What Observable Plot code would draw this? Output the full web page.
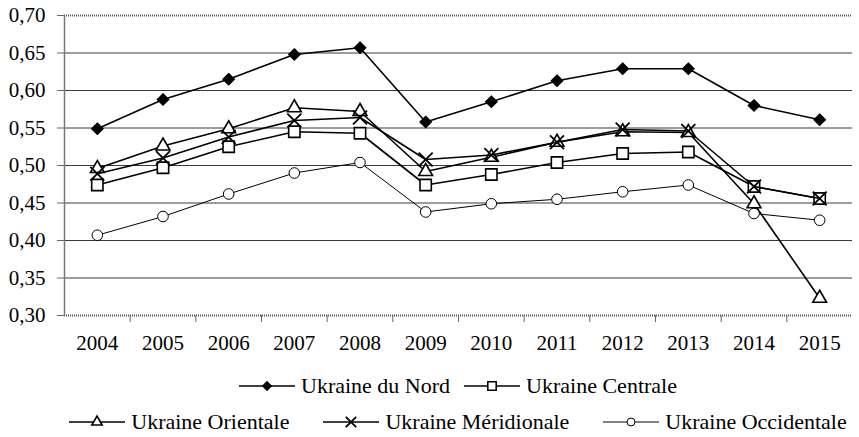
<!DOCTYPE html>
<html>
<head>
<meta charset="utf-8">
<script src="https://cdn.jsdelivr.net/npm/d3@7"></script>
<script src="https://cdn.jsdelivr.net/npm/@observablehq/plot@0.6"></script>
<style>
  html, body { margin: 0; padding: 0; background: #fff; overflow: hidden; }
  #chart svg { display: block; }
  .legend { width: 788px; margin-left: 64px; font-family: 'Liberation Serif'; font-size: 22px; color: #000; }
  .row { display: flex; justify-content: center; align-items: center; height: 40px; line-height: 40px; white-space: nowrap; }
  .row1 { gap: 14px; }
  .row2 { gap: 34px; height: 32px; }
  .item { display: flex; align-items: center; }
  .item svg { display: block; margin-right: 6px; }
  #chart svg text { font-family: 'Liberation Serif'; }
</style>
</head>
<body>
<div id="chart"></div>
<div class="legend" id="legend"></div>
<script>
const years = [2004, 2005, 2006, 2007, 2008, 2009, 2010, 2011, 2012, 2013, 2014, 2015];
const yTicks = [0.30, 0.35, 0.40, 0.45, 0.50, 0.55, 0.60, 0.65, 0.70];

const seriesNames = ["Ukraine du Nord", "Ukraine Centrale", "Ukraine Orientale", "Ukraine Méridionale", "Ukraine Occidentale"];
const nord        = [0.549, 0.588, 0.615, 0.648, 0.657, 0.558, 0.585, 0.613, 0.629, 0.629, 0.580, 0.561];
const centrale    = [0.474, 0.497, 0.525, 0.545, 0.543, 0.474, 0.488, 0.504, 0.516, 0.518, 0.472, 0.456];
const orientale   = [0.496, 0.526, 0.549, 0.577, 0.572, 0.492, 0.511, 0.531, 0.545, 0.544, 0.449, 0.323];
const meridionale = [0.489, 0.510, 0.538, 0.560, 0.564, 0.508, 0.514, 0.531, 0.548, 0.546, 0.472, 0.456];
const occidentale = [0.407, 0.432, 0.462, 0.490, 0.504, 0.438, 0.449, 0.455, 0.465, 0.474, 0.436, 0.427];
const seriesValues = [nord, centrale, orientale, meridionale, occidentale];

// styles (not data)
const styles = [
  {symbol: "diamond2", r: 5.2, fill: "black", lw: 1.6, sw: 1.2},
  {symbol: "square2", r: 7.2, fill: "white", lw: 1.6, sw: 1.6},
  {symbol: "triangle2", r: 6.6, fill: "white", lw: 1.6, sw: 1.6},
  {symbol: "times", r: 6.4, fill: "none", lw: 1.6, sw: 1.8},
  {symbol: "circle", r: 5.3, fill: "white", lw: 1.0, sw: 1.0}
];

const rows = seriesNames.flatMap((name, i) => years.map((year, j) => ({name, year, value: seriesValues[i][j]})));

const xMin = years[0] - 0.5, xMax = years[years.length - 1] + 0.5;
const yMin = yTicks[0], yMax = yTicks[yTicks.length - 1];
const boundaries = years.slice(1).map(y => y - 0.5);
const fmt = d => d.toFixed(2).replace(".", ",");
const FONT = "'Liberation Serif', serif";

const marks = [
  Plot.gridY(yTicks.slice(1, -1), {stroke: "#3a3a3a", strokeOpacity: 1, strokeWidth: 1}),
  Plot.ruleY([yMax], {stroke: "#555", strokeWidth: 2, strokeDasharray: "1 1"}),
  Plot.ruleY([yMin], {stroke: "#555", strokeWidth: 2, strokeDasharray: "1 1"}),
  Plot.ruleX([xMin], {stroke: "#777", strokeWidth: 1.5}),
  Plot.axisY(yTicks, {tickSize: 7, tickPadding: 12, tickFormat: fmt, fontSize: 21, stroke: "#666", label: null, fontFamily: FONT}),
  Plot.axisX(boundaries, {tickSize: 7, tickFormat: () => "", stroke: "#666", label: null}),
  Plot.axisX(years, {tickSize: 0, tickPadding: 20, tickFormat: d => String(d), fontSize: 21, label: null, fontFamily: FONT})
];

seriesNames.forEach((name, i) => {
  const s = styles[i];
  const data = rows.filter(d => d.name === name);
  marks.push(Plot.line(data, {x: "year", y: "value", stroke: "black", strokeWidth: s.lw}));
  marks.push(Plot.dot(data, {x: "year", y: "value", symbol: s.symbol, r: s.r, fill: s.fill, stroke: "black", strokeWidth: s.sw}));
});

const chart = Plot.plot({
  width: 859, height: 366,
  marginLeft: 64, marginRight: 7, marginTop: 15, marginBottom: 51,
  style: {fontFamily: FONT, fontSize: "21px", color: "black", background: "white"},
  x: {domain: [xMin, xMax], axis: null},
  y: {domain: [yMin, yMax], axis: null},
  marks
});
document.getElementById("chart").append(chart);

// Legend
const symbolMap = {diamond2: d3.symbolDiamond2, square2: d3.symbolSquare2, triangle2: d3.symbolTriangle2, times: d3.symbolTimes, circle: d3.symbolCircle};
const legend = document.getElementById("legend");
const layout = [[0, 1], [2, 3, 4]];
layout.forEach((idxs, ri) => {
  const row = document.createElement("div");
  row.className = "row row" + (ri + 1);
  idxs.forEach(i => {
    const s = styles[i];
    const item = document.createElement("div");
    item.className = "item";
    const w = 56, h = 20;
    const svg = d3.create("svg").attr("width", w).attr("height", h);
    svg.append("line").attr("x1", 0).attr("x2", w).attr("y1", h / 2).attr("y2", h / 2)
      .attr("stroke", "black").attr("stroke-width", s.lw);
    svg.append("path")
      .attr("transform", `translate(${w / 2},${h / 2})`)
      .attr("d", d3.symbol(symbolMap[s.symbol], Math.PI * (s.r * 0.75) ** 2)())
      .attr("fill", s.fill).attr("stroke", "black").attr("stroke-width", s.sw);
    item.append(svg.node());
    const span = document.createElement("span");
    span.textContent = seriesNames[i];
    item.append(span);
    row.append(item);
  });
  legend.append(row);
});
</script>
</body>
</html>
